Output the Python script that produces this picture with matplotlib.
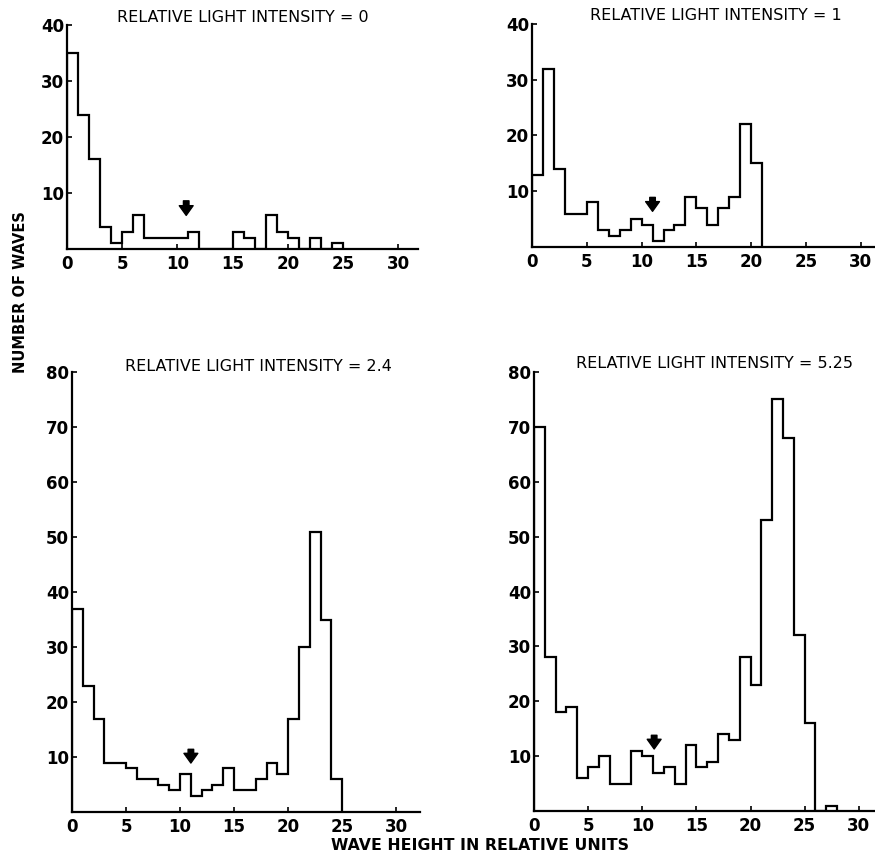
import numpy as np
import matplotlib
matplotlib.use('Agg')
import matplotlib.pyplot as plt

plt.rcParams['font.family'] = ['DejaVu Sans']

# wave counts per unit bin of wave height (bins start at 0)
counts_i0 = [35, 24, 16, 4, 1, 3, 6, 2, 2, 2, 2, 3, 0, 0, 0, 3, 2, 0, 6, 3, 2, 0, 2, 0, 1]
counts_i1 = [13, 32, 14, 6, 6, 8, 3, 2, 3, 5, 4, 1, 3, 4, 9, 7, 4, 7, 9, 22, 15]
counts_i24 = [37, 23, 17, 9, 9, 8, 6, 6, 5, 4, 7, 3, 4, 5, 8, 4, 4, 6, 9, 7, 17, 30, 51, 35, 6]
counts_i525 = [70, 28, 18, 19, 6, 8, 10, 5, 5, 11, 10, 7, 8, 5, 12, 8, 9, 14, 13, 28, 23, 53, 75, 68, 32, 16, 0, 1]

titles = ['RELATIVE LIGHT INTENSITY = 0', 'RELATIVE LIGHT INTENSITY = 1',
          'RELATIVE LIGHT INTENSITY = 2.4', 'RELATIVE LIGHT INTENSITY = 5.25']
ymax = [40, 40, 80, 80]
yticks = [[10, 20, 30, 40], [10, 20, 30, 40],
          [10, 20, 30, 40, 50, 60, 70, 80], [10, 20, 30, 40, 50, 60, 70, 80]]
xticks = [0, 5, 10, 15, 20, 25, 30]
xmax = [31.8, 31.3, 32.2, 31.5]

# arrow marks (x, tip, top)
arrow_x = [10.8, 11.0, 11.0, 11.1]
arrow_tip = [6.0, 6.4, 8.9, 11.3]
arrow_top = [8.6, 8.9, 11.4, 13.8]

W, H = 875, 855
fig = plt.figure(figsize=(W / 100, H / 100), dpi=100)

# axes boxes in pixels: left, top(y of ymax), right, bottom(y of 0)
boxes = [(67, 25, 418, 249), (532, 24, 875, 247),
         (72, 372, 420, 812), (534, 372, 875, 811)]
title_pos = [(243, 18), (716, 16), (258, 366), (715, 363)]

data = [counts_i0, counts_i1, counts_i24, counts_i525]

for i, c in enumerate(data):
    l, t, r, b = boxes[i]
    ax = fig.add_axes([l / W, 1 - b / H, (r - l) / W, (b - t) / H])
    edges = np.arange(len(c) + 1)
    ax.stairs(c, edges, color='k', lw=1.6, baseline=0)
    ax.set_xlim(0, xmax[i])
    ax.set_ylim(0, ymax[i])
    ax.set_xticks(xticks)
    ax.set_yticks(yticks[i])
    for s in ['top', 'right']:
        ax.spines[s].set_visible(False)
    for s in ['left', 'bottom']:
        ax.spines[s].set_linewidth(1.6)
    ax.tick_params(direction='in', length=3.5, width=1.2, labelsize=12)
    ax.tick_params(axis='x', pad=4)
    ax.tick_params(axis='y', pad=2)
    for lab in ax.get_xticklabels() + ax.get_yticklabels():
        lab.set_fontweight('bold')
    ax.annotate('', xy=(arrow_x[i], arrow_tip[i]), xytext=(arrow_x[i], arrow_top[i]),
                arrowprops=dict(arrowstyle='simple,head_width=1.0,head_length=0.7,tail_width=0.4',
                                fc='k', ec='k', shrinkA=0, shrinkB=0, mutation_scale=10))
    tx, ty = title_pos[i]
    fig.text(tx / W, 1 - ty / H, titles[i], ha='center', va='center', fontsize=11.5)

fig.text(21 / W, 1 - 292 / H, 'NUMBER OF WAVES', rotation=90, ha='center', va='center',
         fontsize=10.5, fontweight='bold')
fig.text(480 / W, 1 - 845 / H, 'WAVE HEIGHT IN RELATIVE UNITS', ha='center', va='center',
         fontsize=11.3, fontweight='bold')

fig.savefig('out.png', dpi=100)
